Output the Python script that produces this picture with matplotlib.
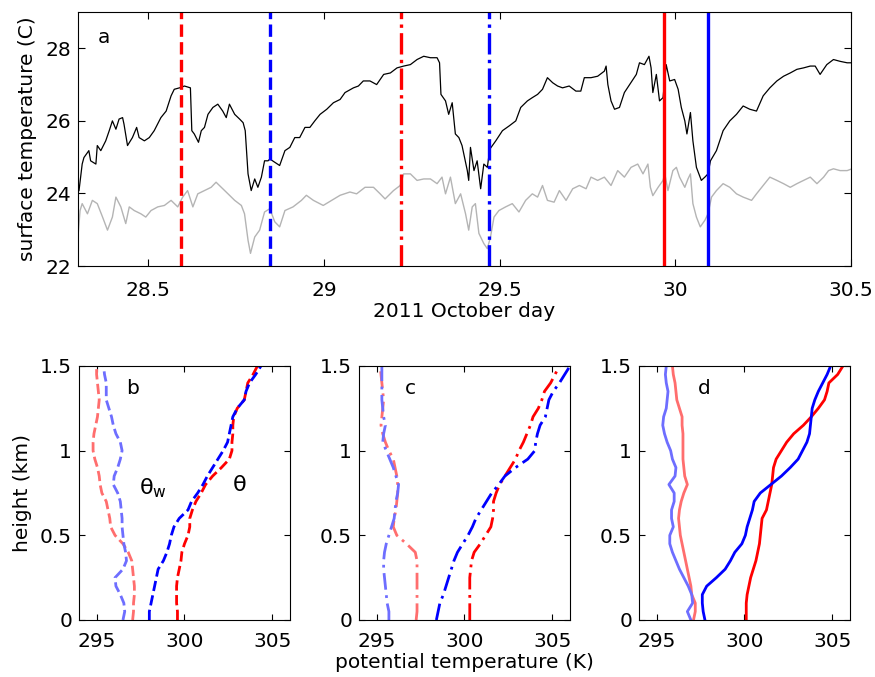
import numpy as np
import matplotlib.pyplot as plt

plt.rcParams['font.family'] = ['DejaVu Sans']
plt.rcParams['font.size'] = 14.5

# ---- panel a : surface temperature time series ----
day_blk = [28.303, 28.312, 28.317, 28.331, 28.336, 28.351, 28.355, 28.365, 28.379, 28.389,
           28.398, 28.408, 28.417, 28.427, 28.431, 28.441, 28.455, 28.467, 28.474, 28.489,
           28.503, 28.517, 28.536, 28.551, 28.565, 28.574, 28.589, 28.603, 28.620, 28.624,
           28.631, 28.643, 28.651, 28.660, 28.670, 28.684, 28.698, 28.712, 28.722, 28.731,
           28.746, 28.760, 28.770, 28.776, 28.784, 28.793, 28.803, 28.812, 28.822, 28.831,
           28.841, 28.846, 28.874, 28.889, 28.903, 28.917, 28.931, 28.946, 28.960, 28.974,
           28.989, 29.008, 29.027, 29.046, 29.060, 29.084, 29.098, 29.112, 29.131, 29.150,
           29.170, 29.189, 29.208, 29.227, 29.246, 29.265, 29.284, 29.303, 29.322, 29.329,
           29.333, 29.346, 29.355, 29.365, 29.374, 29.384, 29.393, 29.408, 29.412, 29.417,
           29.427, 29.436, 29.446, 29.455, 29.465, 29.472, 29.489, 29.508, 29.527, 29.546,
           29.560, 29.579, 29.593, 29.608, 29.622, 29.636, 29.651, 29.665, 29.679, 29.698,
           29.717, 29.731, 29.741, 29.760, 29.779, 29.798, 29.803, 29.808, 29.817, 29.827,
           29.841, 29.855, 29.870, 29.889, 29.898, 29.912, 29.925, 29.931, 29.936, 29.946,
           29.955, 29.965, 29.974, 29.984, 29.998, 30.008, 30.017, 30.027, 30.033, 30.043,
           30.050, 30.060, 30.074, 30.084, 30.093, 30.100, 30.117, 30.136, 30.155, 30.174,
           30.193, 30.212, 30.231, 30.250, 30.269, 30.289, 30.308, 30.327, 30.346, 30.365,
           30.384, 30.398, 30.412, 30.431, 30.450, 30.469, 30.489, 30.503]
t_blk = [24.08, 24.81, 24.99, 25.18, 24.90, 24.81, 25.32, 25.18, 25.45, 25.73,
         26.00, 25.77, 26.05, 26.09, 25.91, 25.32, 25.54, 25.82, 25.54, 25.45,
         25.54, 25.73, 26.09, 26.27, 26.69, 26.87, 26.91, 26.96, 26.91, 25.73,
         25.64, 25.41, 25.73, 25.82, 26.18, 26.37, 26.46, 26.27, 26.09, 26.46,
         26.18, 26.05, 25.95, 25.73, 24.54, 24.08, 24.40, 24.17, 24.45, 24.90,
         24.90, 24.95, 24.77, 25.18, 25.27, 25.54, 25.54, 25.82, 25.82, 26.00,
         26.18, 26.32, 26.50, 26.59, 26.78, 26.91, 26.96, 27.10, 27.10, 27.00,
         27.28, 27.32, 27.46, 27.51, 27.55, 27.69, 27.78, 27.74, 27.74, 27.60,
         26.73, 26.55, 26.18, 26.50, 25.64, 25.54, 25.32, 24.63, 24.36, 25.27,
         24.63, 24.90, 24.13, 24.81, 24.72, 25.22, 25.45, 25.73, 25.86, 26.00,
         26.37, 26.55, 26.64, 26.73, 26.87, 27.19, 27.05, 26.96, 26.91, 26.96,
         26.82, 26.82, 27.19, 27.19, 27.23, 27.37, 27.51, 27.00, 26.55, 26.32,
         26.37, 26.78, 27.00, 27.28, 27.60, 27.55, 27.78, 27.46, 26.78, 27.28,
         26.55, 26.64, 27.55, 27.10, 27.14, 26.87, 26.37, 26.00, 25.64, 26.23,
         25.45, 24.72, 24.36, 24.45, 24.54, 24.90, 25.18, 25.73, 26.00, 26.18,
         26.41, 26.32, 26.27, 26.69, 26.91, 27.10, 27.23, 27.32, 27.42, 27.46,
         27.51, 27.51, 27.28, 27.55, 27.69, 27.64, 27.60, 27.60]

day_gry = [28.300, 28.306, 28.312, 28.327, 28.341, 28.355, 28.370, 28.384, 28.398, 28.408,
           28.422, 28.436, 28.446, 28.460, 28.479, 28.493, 28.508, 28.527, 28.546, 28.565,
           28.584, 28.598, 28.612, 28.627, 28.641, 28.660, 28.679, 28.693, 28.708, 28.727,
           28.746, 28.765, 28.774, 28.784, 28.791, 28.803, 28.817, 28.831, 28.846, 28.860,
           28.874, 28.889, 28.912, 28.936, 28.950, 28.970, 28.998, 29.022, 29.046, 29.074,
           29.093, 29.117, 29.141, 29.160, 29.174, 29.198, 29.217, 29.227, 29.246, 29.265,
           29.284, 29.303, 29.322, 29.336, 29.346, 29.360, 29.374, 29.389, 29.403, 29.412,
           29.422, 29.431, 29.441, 29.455, 29.465, 29.474, 29.484, 29.498, 29.517, 29.536,
           29.555, 29.574, 29.593, 29.608, 29.622, 29.636, 29.655, 29.670, 29.689, 29.708,
           29.727, 29.746, 29.760, 29.779, 29.798, 29.817, 29.836, 29.855, 29.874, 29.893,
           29.908, 29.922, 29.929, 29.936, 29.951, 29.965, 29.970, 29.979, 29.993, 30.003,
           30.012, 30.027, 30.036, 30.043, 30.050, 30.060, 30.071, 30.084, 30.093, 30.103,
           30.117, 30.136, 30.155, 30.174, 30.193, 30.217, 30.231, 30.250, 30.269, 30.289,
           30.308, 30.327, 30.346, 30.365, 30.384, 30.403, 30.422, 30.436, 30.450, 30.469,
           30.489, 30.503]
t_gry = [22.80, 23.53, 23.72, 23.44, 23.81, 23.72, 23.35, 22.99, 23.35, 23.90,
         23.63, 23.17, 23.63, 23.53, 23.44, 23.35, 23.53, 23.63, 23.67, 23.81,
         23.63, 23.90, 24.08, 23.63, 23.99, 24.08, 24.17, 24.31, 24.17, 23.99,
         23.81, 23.67, 23.44, 22.71, 22.35, 22.80, 22.99, 23.49, 23.58, 23.22,
         23.08, 23.53, 23.63, 23.81, 23.95, 23.81, 23.67, 23.81, 23.95, 24.04,
         23.99, 24.17, 24.17, 23.99, 23.85, 24.08, 24.22, 24.54, 24.54, 24.36,
         24.40, 24.40, 24.27, 24.45, 23.99, 24.45, 23.72, 23.99, 23.44, 22.99,
         23.63, 23.72, 22.90, 22.62, 22.48, 22.80, 23.35, 23.53, 23.63, 23.72,
         23.49, 23.81, 23.99, 23.90, 24.22, 23.81, 23.76, 24.08, 23.81, 24.13,
         24.22, 24.13, 24.45, 24.36, 24.45, 24.22, 24.63, 24.45, 24.72, 24.81,
         24.54, 24.81, 24.17, 23.94, 24.17, 24.36, 24.54, 24.08, 24.63, 24.72,
         24.45, 24.17, 24.40, 24.54, 23.72, 23.35, 23.08, 23.26, 23.44, 23.90,
         24.08, 24.27, 24.17, 23.99, 23.90, 23.81, 23.99, 24.22, 24.45, 24.36,
         24.27, 24.17, 24.27, 24.36, 24.45, 24.27, 24.45, 24.63, 24.68, 24.63,
         24.63, 24.68]

# times of the soundings (red / blue pairs)
snd_day = [28.593, 28.847, 29.220, 29.470, 29.967, 30.093]
snd_col = ['r', 'b', 'r', 'b', 'r', 'b']
snd_ls = ['--', '--', '-.', '-.', '-', '-']

# ---- panels b-d : sounding profiles ----
z_km = [0.0, 0.05, 0.1, 0.15, 0.2, 0.25, 0.3, 0.35, 0.4, 0.45, 0.5, 0.55, 0.6, 0.65, 0.7, 0.75,
        0.8, 0.85, 0.9, 0.95, 1.0, 1.05, 1.1, 1.15, 1.2, 1.25, 1.3, 1.35, 1.4, 1.45, 1.5]

# b (dashed)
b_th_blue = [298.0, 298.0, 298.1, 298.2, 298.3, 298.4, 298.5, 298.8, 299.0, 299.15, 299.25,
             299.4, 299.7, 300.2, 300.4, 300.75, 301.05, 301.3, 301.6, 301.9, 302.2, 302.45,
             302.55, 302.65, 302.75, 303.0, 303.4, 303.5, 303.7, 304.05, 304.35]
b_th_red = [299.6, 299.6, 299.55, 299.55, 299.55, 299.6, 299.7, 299.8, 299.85, 300.0, 300.2,
            300.3, 300.3, 300.45, 300.65, 300.95, 301.2, 301.6, 302.1, 302.55, 302.7, 302.7,
            302.75, 302.75, 302.8, 303.0, 303.4, 303.5, 303.6, 303.9, 304.15]
b_thw_blue = [296.5, 296.6, 296.55, 296.35, 296.1, 296.05, 296.5, 296.7, 296.65, 296.55, 296.5,
              296.45, 296.45, 296.4, 296.35, 296.2, 295.95, 296.0, 296.2, 296.35, 296.45, 296.35,
              296.1, 295.95, 295.85, 295.7, 295.55, 295.55, 295.55, 295.45, 295.4]
b_thw_red = [297.05, 297.1, 297.1, 297.15, 297.15, 297.1, 297.05, 297.0, 296.8, 296.5, 296.05,
             295.8, 295.75, 295.65, 295.55, 295.3, 295.2, 295.15, 295.05, 294.9, 294.8, 294.8,
             294.85, 294.95, 295.05, 295.1, 295.15, 295.1, 295.05, 295.0, 295.0]

# c (dash-dot)
c_th_blue = [298.4, 298.5, 298.6, 298.8, 298.95, 299.1, 299.25, 299.4, 299.6, 299.9, 300.2,
             300.45, 300.65, 300.95, 301.25, 301.55, 301.95, 302.3, 302.9, 303.6, 304.0, 304.05,
             304.15, 304.3, 304.6, 304.7, 304.8, 305.05, 305.4, 305.7, 306.0]
c_th_red = [300.3, 300.3, 300.3, 300.3, 300.3, 300.3, 300.35, 300.4, 300.55, 300.9, 301.2,
            301.5, 301.6, 301.65, 301.65, 301.8, 302.0, 302.3, 302.6, 302.9, 303.1, 303.35,
            303.55, 303.75, 303.9, 304.2, 304.4, 304.55, 304.9, 305.15, 305.4]
c_thw_blue = [295.7, 295.7, 295.6, 295.55, 295.5, 295.45, 295.4, 295.4, 295.45, 295.55, 295.7,
              295.85, 296.0, 296.05, 296.1, 296.2, 296.25, 296.1, 295.95, 295.75, 295.55, 295.35,
              295.4, 295.5, 295.4, 295.35, 295.3, 295.3, 295.3, 295.3, 295.3]
c_thw_red = [297.25, 297.3, 297.3, 297.3, 297.3, 297.3, 297.3, 297.3, 297.2, 296.7, 296.15,
             295.95, 296.0, 296.1, 296.15, 296.2, 296.2, 296.15, 296.05, 295.95, 295.7, 295.5,
             295.35, 295.25, 295.3, 295.35, 295.4, 295.35, 295.3, 295.25, 295.2]

# d (solid)
d_th_blue = [297.75, 297.65, 297.6, 297.6, 297.85, 298.4, 298.9, 299.2, 299.45, 299.85, 300.05,
             300.15, 300.3, 300.45, 300.55, 300.9, 301.5, 302.1, 302.6, 303.05, 303.3, 303.55,
             303.7, 303.75, 303.8, 303.85, 304.0, 304.2, 304.45, 304.7, 304.9]
d_th_red = [300.1, 300.1, 300.1, 300.15, 300.25, 300.35, 300.5, 300.65, 300.75, 300.85, 300.9,
            300.95, 301.0, 301.25, 301.35, 301.45, 301.55, 301.6, 301.65, 301.8, 302.1, 302.4,
            302.8, 303.35, 303.8, 304.2, 304.55, 304.7, 304.8, 305.3, 305.6]
d_thw_blue = [296.95, 296.75, 297.05, 297.0, 296.8, 296.55, 296.3, 296.1, 295.9, 295.75, 295.75,
              295.95, 295.85, 295.85, 296.0, 296.0, 295.7, 296.05, 296.1, 295.9, 295.8, 295.6,
              295.45, 295.35, 295.4, 295.55, 295.6, 295.65, 295.55, 295.5, 295.55]
d_thw_red = [297.1, 297.2, 297.2, 297.0, 296.95, 296.85, 296.75, 296.65, 296.55, 296.45, 296.35,
             296.3, 296.25, 296.3, 296.4, 296.55, 296.75, 296.6, 296.55, 296.5, 296.5, 296.5,
             296.5, 296.45, 296.45, 296.3, 296.15, 296.1, 296.05, 295.95, 295.9]

LRED = '#ff6e6e'
LBLUE = '#6e6eff'

fig = plt.figure(figsize=(8.75, 6.77), dpi=100)

ax = fig.add_axes([0.0891, 0.607, 0.8835, 0.3753])
ax.plot(day_gry, t_gry, color='#b4b4b4', lw=1.0)
ax.plot(day_blk, t_blk, color='k', lw=0.9)
for d, c, ls in zip(snd_day, snd_col, snd_ls):
    ax.axvline(d, color=c, ls=ls, lw=2.4)
ax.set_xlim(28.3, 30.5)
ax.set_ylim(22, 29)
ax.set_xticks([28.5, 29, 29.5, 30, 30.5])
ax.set_xticklabels(['28.5', '29', '29.5', '30', '30.5'])
ax.set_yticks([22, 24, 26, 28])
ax.tick_params(direction='in', top=True, right=True, length=5)
ax.tick_params(axis='x', pad=11)
ax.tick_params(axis='y', pad=5)
ax.set_xlabel('2011 October day', labelpad=1)
ax.set_ylabel('surface temperature (C)', labelpad=6)
ax.text(0.025, 0.878, 'a', transform=ax.transAxes)

profiles = [
    ('b', '--', b_th_red, b_th_blue, b_thw_red, b_thw_blue, 0.0903, 0.225),
    ('c', (0, (6, 2, 1, 2)), c_th_red, c_th_blue, c_thw_red, c_thw_blue, 0.4103, 0.218),
    ('d', '-', d_th_red, d_th_blue, d_thw_red, d_thw_blue, 0.7303, 0.28),
]
for lab, ls, thr, thb, twr, twb, left, tx in profiles:
    a2 = fig.add_axes([left, 0.0842, 0.2411, 0.3752])
    a2.plot(twr, z_km, color=LRED, ls=ls, lw=2)
    a2.plot(twb, z_km, color=LBLUE, ls=ls, lw=2)
    a2.plot(thr, z_km, color='r', ls=ls, lw=2)
    a2.plot(thb, z_km, color='b', ls=ls, lw=2)
    a2.set_xlim(294, 306)
    a2.set_ylim(0, 1.5)
    a2.set_xticks([295, 300, 305])
    a2.set_yticks([0, 0.5, 1, 1.5])
    a2.set_yticklabels(['0', '0.5', '1', '1.5'])
    a2.tick_params(direction='in', top=True, right=True, length=4)
    a2.tick_params(axis='x', pad=9)
    a2.tick_params(axis='y', pad=5)
    a2.text(tx, 0.89, lab, transform=a2.transAxes)
    if lab == 'b':
        a2.set_ylabel('height (km)', labelpad=6)
        a2.text(297.4, 0.74, r'$\mathregular{\theta_w}$', fontsize=16)
        a2.text(302.7, 0.76, r'$\mathregular{\theta}$', fontsize=16)
    if lab == 'c':
        a2.set_xlabel('potential temperature (K)', labelpad=1)

fig.savefig('out.png', dpi=100)
